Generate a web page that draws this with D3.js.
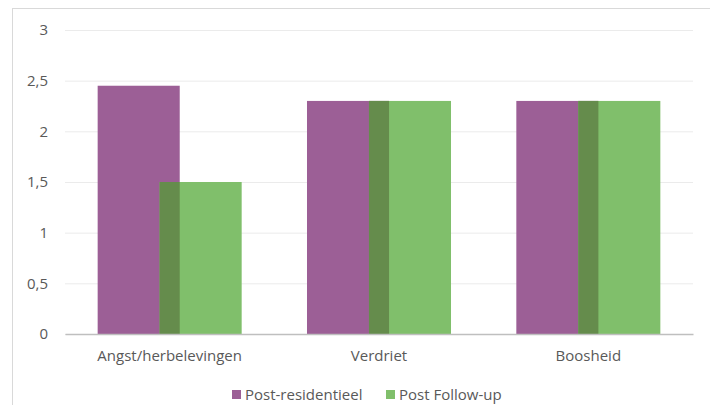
<!DOCTYPE html>
<html><head><meta charset="utf-8">
<script src="https://cdn.jsdelivr.net/npm/d3@7"></script>
<style>body{margin:0;background:#fff}svg{display:block}text{font-family:"Open Sans",sans-serif}</style>
</head><body><svg id="c" width="710" height="405"></svg>
<script>
const categories = ["Angst/herbelevingen","Verdriet","Boosheid"];
const postResidentieel = [2.45, 2.3, 2.3];
const postFollowUp = [1.5, 2.3, 2.3];
const seriesNames = ["Post-residentieel","Post Follow-up"];
const yTicks = [0,0.5,1,1.5,2,2.5,3];

const svg = d3.select("#c");
const W=710,H=405;
const m={left:65,right:17,top:30,bottom:71};
svg.append("rect").attr("x",12.5).attr("y",8.5).attr("width",720).attr("height",420)
  .attr("fill","#fff").attr("stroke","#d9d9d9");

const x = d3.scaleBand().domain(categories).range([m.left,W-m.right]).paddingInner(0).paddingOuter(0);
const y = d3.scaleLinear().domain([0,3]).range([H-m.bottom,m.top]);
const barW = x.bandwidth()*0.392;
const overlap = barW*0.245;
const groupW = 2*barW-overlap;
const off = (x.bandwidth()-groupW)/2;

const fmt = d => String(d).replace(".",",");
const yAxis = d3.axisLeft(y).tickValues(yTicks).tickFormat(fmt).tickSize(-(W-m.left-m.right)).tickPadding(17);
const gy = svg.append("g").attr("transform",`translate(${m.left},0)`).call(yAxis);
gy.select(".domain").remove();
gy.selectAll(".tick line").attr("stroke","#ebebeb");
gy.selectAll(".tick text").attr("fill","#595959").attr("font-size",15);

const purple="#9c5f96", green="#80bf6b", dark="#658c4c";
svg.append("g").selectAll("rect").data(categories).join("rect")
  .attr("x",d=>x(d)+off).attr("width",barW)
  .attr("y",(d,i)=>y(postResidentieel[i])).attr("height",(d,i)=>y(0)-y(postResidentieel[i]))
  .attr("fill",purple);
svg.append("g").selectAll("rect").data(categories).join("rect")
  .attr("x",d=>x(d)+off+barW-overlap).attr("width",barW)
  .attr("y",(d,i)=>y(postFollowUp[i])).attr("height",(d,i)=>y(0)-y(postFollowUp[i]))
  .attr("fill",green);
svg.append("g").selectAll("rect").data(categories).join("rect")
  .attr("x",d=>x(d)+off+barW-overlap).attr("width",overlap)
  .attr("y",(d,i)=>y(Math.min(postFollowUp[i],postResidentieel[i])))
  .attr("height",(d,i)=>y(0)-y(Math.min(postFollowUp[i],postResidentieel[i])))
  .attr("fill",dark);

const gx = svg.append("g").attr("transform",`translate(0,${y(0)})`).call(d3.axisBottom(x).tickSize(0).tickPadding(16));
gx.select(".domain").attr("stroke","#bfbfbf").attr("stroke-width",1.5);
gx.selectAll(".tick text").attr("fill","#595959").attr("font-size",15);

const lg = svg.append("g");
const items=[{n:seriesNames[0],c:purple,x:232},{n:seriesNames[1],c:green,x:386}];
items.forEach(it=>{
  lg.append("rect").attr("x",it.x).attr("y",390).attr("width",9).attr("height",9).attr("fill",it.c);
  lg.append("text").attr("x",it.x+13).attr("y",395).attr("dy","0.35em").attr("font-size",15).attr("fill","#595959").text(it.n);
});
</script></body></html>
